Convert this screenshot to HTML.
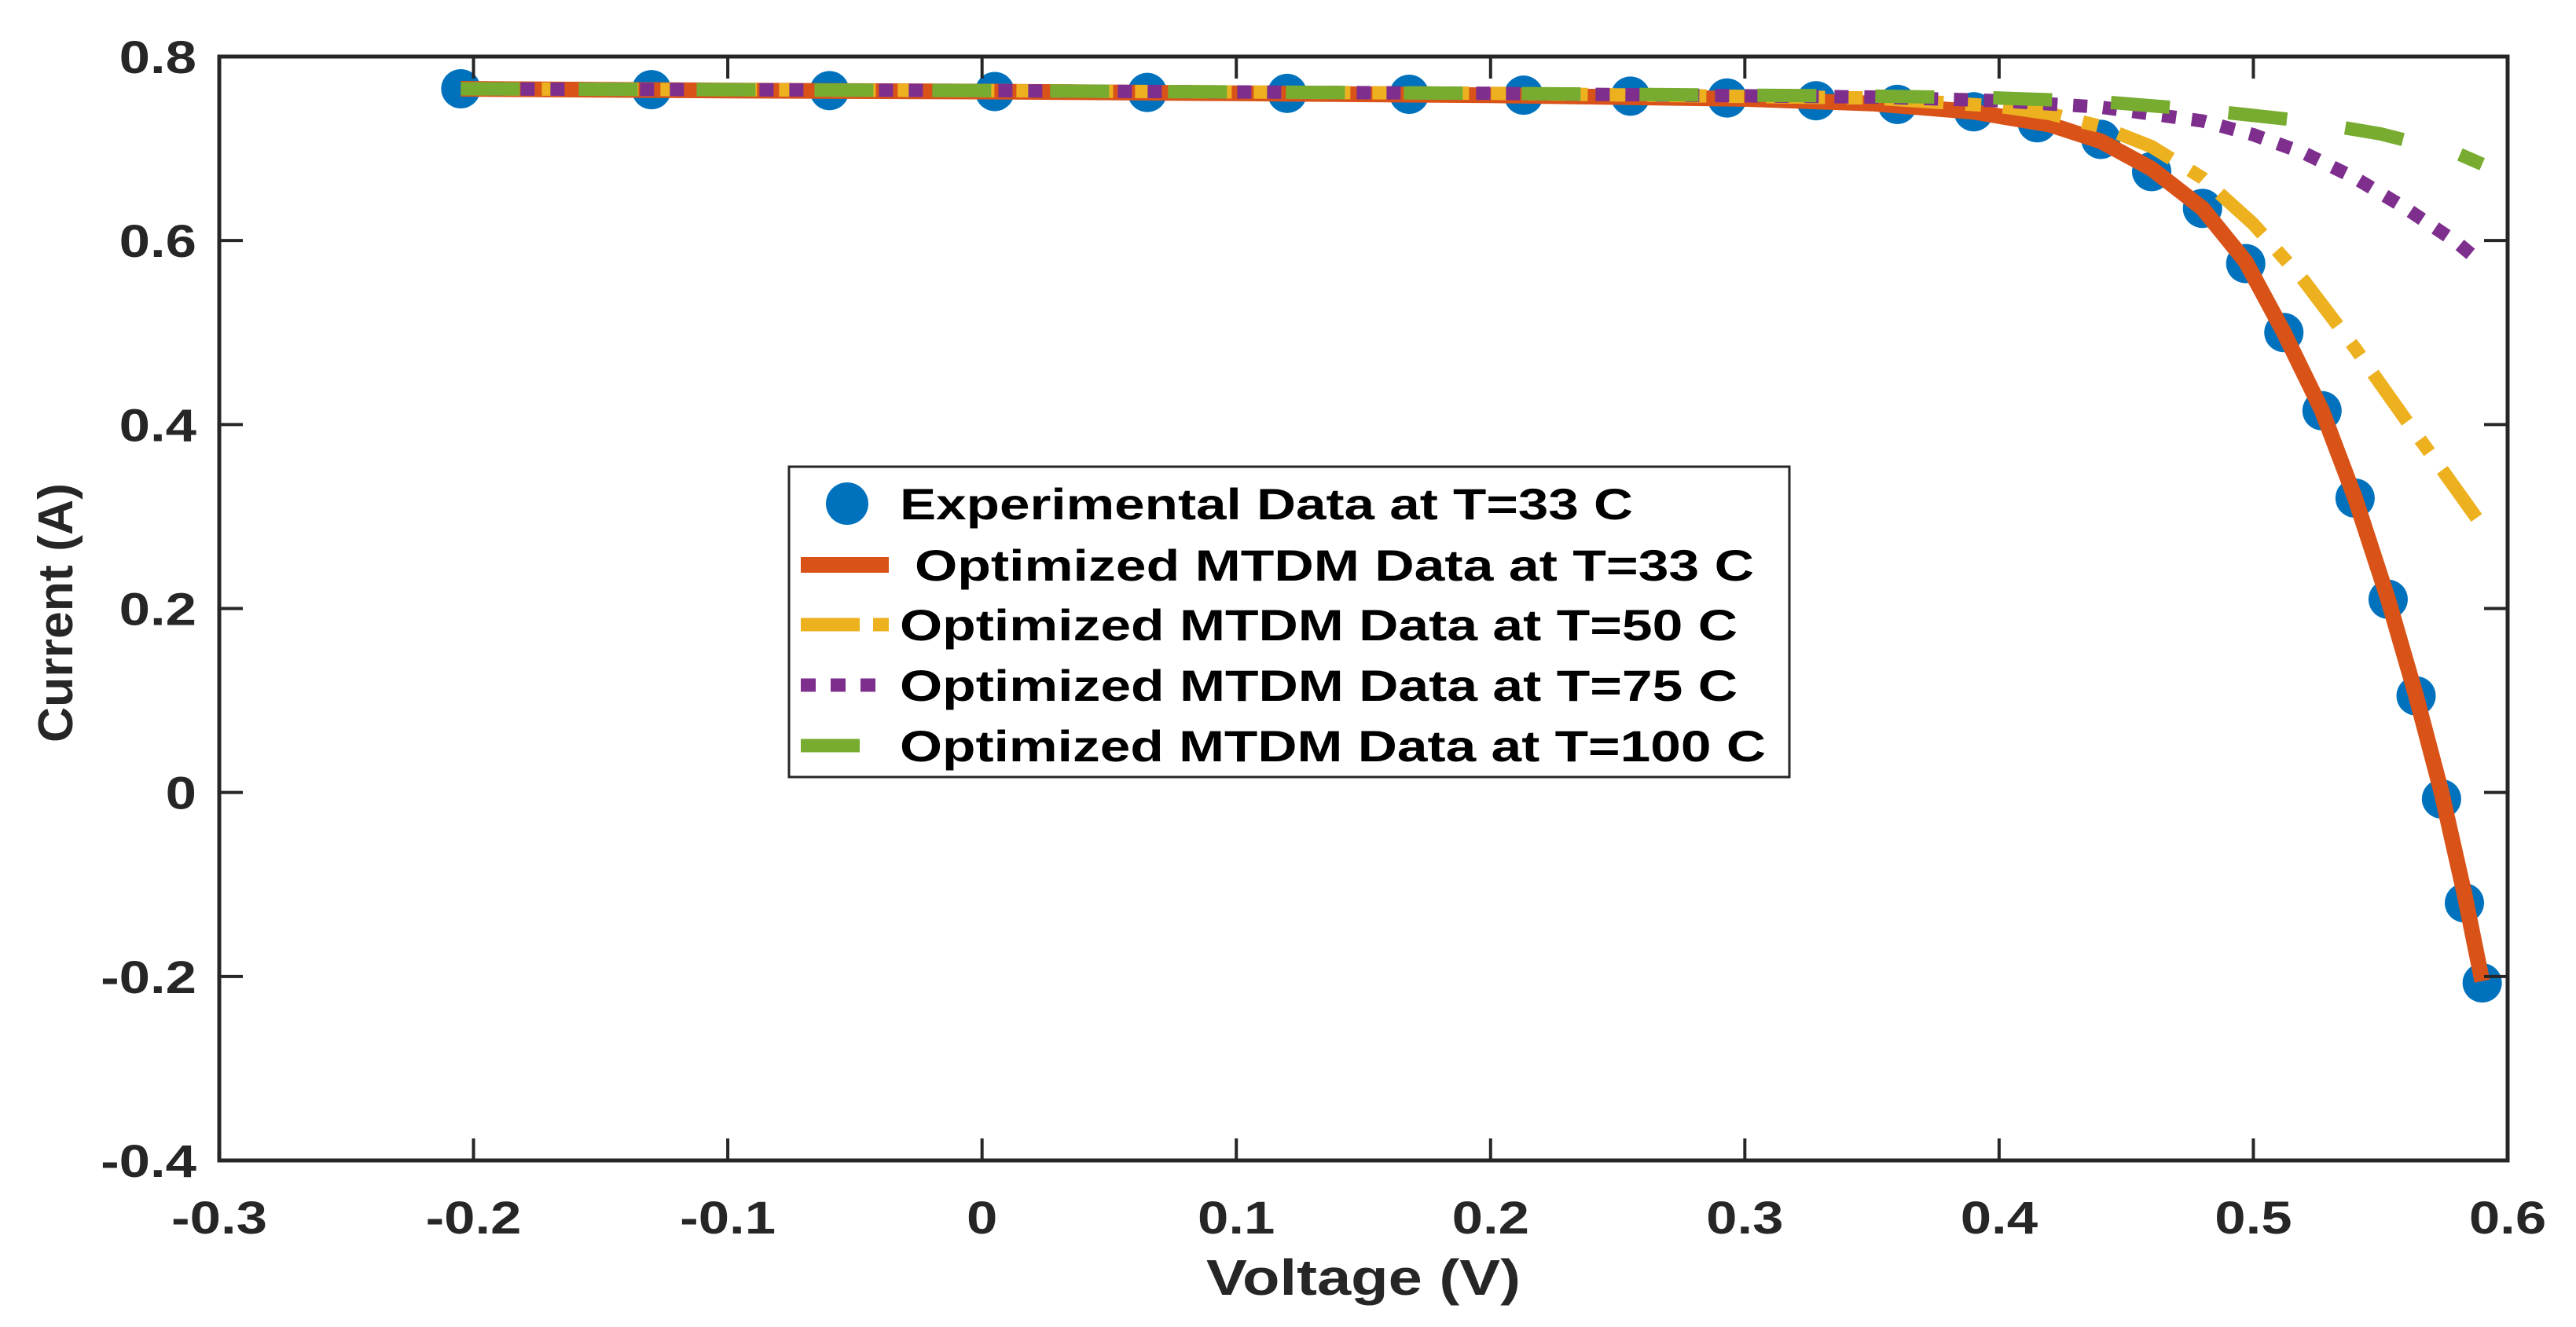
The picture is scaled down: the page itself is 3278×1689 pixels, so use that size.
<!DOCTYPE html>
<html><head><meta charset="utf-8"><style>
html,body{margin:0;padding:0;background:#fff;}
svg{display:block;font-family:"Liberation Sans",Arial,sans-serif;font-weight:bold;}
</style></head><body>
<svg id="chart" width="3278" height="1689" viewBox="0 0 3278 1689" xmlns="http://www.w3.org/2000/svg">
<rect width="3278" height="1689" fill="#fff"/>
<g id="plot"></g>
<g id="axes"></g>
<g id="legend"></g>
</svg>
<script>
const xTicks = [-0.3,-0.2,-0.1,0,0.1,0.2,0.3,0.4,0.5,0.6];
const xTickLabels = ["-0.3","-0.2","-0.1","0","0.1","0.2","0.3","0.4","0.5","0.6"];
const yTicks = [-0.4,-0.2,0,0.2,0.4,0.6,0.8];
const yTickLabels = ["-0.4","-0.2","0","0.2","0.4","0.6","0.8"];
const expV = [-0.205,-0.13,-0.06,0.005,0.065,0.12,0.168,0.213,0.255,0.293,0.328,0.36,0.39,0.415,0.44,0.46,0.48,0.497,0.512,0.527,0.54,0.553,0.564,0.574,0.583,0.59];
const expI = [0.765,0.764,0.763,0.762,0.761,0.760,0.759,0.758,0.757,0.755,0.752,0.748,0.74,0.728,0.71,0.675,0.635,0.575,0.5,0.415,0.32,0.21,0.105,-0.007,-0.12,-0.207];
const t33V = [-0.205,-0.1,0,0.1,0.2,0.3,0.35,0.39,0.42,0.44,0.46,0.48,0.497,0.512,0.527,0.54,0.553,0.564,0.574,0.583,0.59];
const t33I = [0.765,0.763,0.762,0.760,0.758,0.754,0.749,0.74,0.726,0.708,0.678,0.635,0.577,0.5,0.415,0.32,0.21,0.105,0.0,-0.11,-0.205];
const t50V = [-0.205,0,0.2,0.35,0.4,0.42,0.44,0.46,0.48,0.5,0.52,0.54,0.56,0.575,0.59];
const t50I = [0.765,0.763,0.760,0.755,0.746,0.738,0.724,0.702,0.668,0.618,0.556,0.483,0.405,0.348,0.29];
const t75V = [-0.205,0,0.2,0.35,0.4,0.44,0.48,0.5,0.52,0.54,0.56,0.58,0.59];
const t75I = [0.765,0.763,0.760,0.756,0.752,0.745,0.73,0.715,0.695,0.668,0.635,0.598,0.575];
const t100V = [-0.205,0,0.2,0.35,0.4,0.44,0.48,0.52,0.55,0.58,0.59];
const t100I = [0.765,0.763,0.760,0.757,0.755,0.751,0.742,0.73,0.716,0.695,0.683];
const legendLabels = ["Experimental Data at T=33 C","Optimized MTDM Data at T=33 C","Optimized MTDM Data at T=50 C","Optimized MTDM Data at T=75 C","Optimized MTDM Data at T=100 C"];

const NS="http://www.w3.org/2000/svg";
const L=279,R=3191,T=72,B=1477;
const xMin=-0.3,xMax=0.6,yMin=-0.4,yMax=0.8;
function sx(v){return L+(v-xMin)/(xMax-xMin)*(R-L);}
function sy(v){return B-(v-yMin)/(yMax-yMin)*(B-T);}
function mk(tag,attrs,parent){const e=document.createElementNS(NS,tag);for(const k in attrs)e.setAttribute(k,attrs[k]);parent.appendChild(e);return e;}
const plot=document.getElementById('plot'),axes=document.getElementById('axes'),leg=document.getElementById('legend');

function line(V,I,color,w,dash,name){
  let d=V.map((v,i)=>(i?'L':'M')+sx(v).toFixed(1)+','+sy(I[i]).toFixed(1)).join(' ');
  const p=mk('path',{d:d,fill:'none',stroke:color,'stroke-width':w,'stroke-linejoin':'round'},plot);
  if(dash)p.setAttribute('stroke-dasharray',dash);
  
  
}
expV.forEach((v,i)=>{
  const c=mk('circle',{cx:sx(v),cy:sy(expI[i]),r:25,fill:'#0072bd'},plot);
  
  
});
line(t33V,t33I,'#d95319',20,null,'line-t33');
line(t50V,t50I,'#edb120',17,'75 28 20 28','line-t50');
line(t75V,t75I,'#7e2f8e',17,'18 20','line-t75');
line(t100V,t100I,'#77ac30',17,'75 75','line-t100');

const box=mk('rect',{x:L,y:T,width:R-L,height:B-T,fill:'none',stroke:'#262626','stroke-width':5},axes);


xTicks.forEach((v,i)=>{
  const x=sx(v);
  mk('line',{x1:x,y1:B,x2:x,y2:B-28,stroke:'#262626','stroke-width':4},axes);
  mk('line',{x1:x,y1:T,x2:x,y2:T+28,stroke:'#262626','stroke-width':4},axes);
  const t=mk('text',{x:0,y:0,'text-anchor':'middle','font-size':58,fill:'#262626',transform:'translate('+x+',1570) scale(1.22,1)'},axes);
  t.textContent=xTickLabels[i];
  
  
});
yTicks.forEach((v,i)=>{
  const y=sy(v);
  mk('line',{x1:L,y1:y,x2:L+30,y2:y,stroke:'#262626','stroke-width':4},axes);
  mk('line',{x1:R,y1:y,x2:R-30,y2:y,stroke:'#262626','stroke-width':4},axes);
  const t=mk('text',{x:0,y:0,'text-anchor':'end','font-size':58,fill:'#262626',transform:'translate(250,'+(y+21)+') scale(1.22,1)'},axes);
  t.textContent=yTickLabels[i];
  
  
});
const xt=mk('text',{x:1735,y:1648,'text-anchor':'middle','font-size':64,fill:'#262626',textLength:400,lengthAdjust:'spacingAndGlyphs'},axes);
xt.textContent='Voltage (V)';


const yt=mk('text',{x:0,y:0,'text-anchor':'middle','font-size':62,fill:'#262626',textLength:330,lengthAdjust:'spacingAndGlyphs',transform:'translate(92,780) rotate(-90)'},axes);
yt.textContent='Current (A)';



const lb=mk('rect',{x:1004,y:594,width:1273,height:395,fill:'#fff',stroke:'#262626','stroke-width':3},leg);


const rowsY=[641,719,795,872,949];
const textX=[1145,1164,1145,1145,1145];
const textW=[933,1068,1066,1066,1102];
rowsY.forEach((y,i)=>{
  const g=mk('g',{},leg);
  
  
  if(i===0){mk('circle',{cx:1078,cy:y,r:27,fill:'#0072bd'},g);}
  else if(i===1){mk('line',{x1:1019,y1:y,x2:1131,y2:y,stroke:'#d95319','stroke-width':20},g);}
  else if(i===2){mk('line',{x1:1019,y1:y,x2:1131,y2:y,stroke:'#edb120','stroke-width':17,'stroke-dasharray':'75 17 20 40'},g);}
  else if(i===3){mk('line',{x1:1019,y1:y,x2:1114,y2:y,stroke:'#7e2f8e','stroke-width':17,'stroke-dasharray':'19 19'},g);}
  else {mk('line',{x1:1019,y1:y,x2:1094,y2:y,stroke:'#77ac30','stroke-width':17},g);}
  const t=mk('text',{x:textX[i],y:y+20,'font-size':56,fill:'#000',textLength:textW[i],lengthAdjust:'spacingAndGlyphs'},g);
  t.textContent=legendLabels[i];
});
</script>
</body></html>
